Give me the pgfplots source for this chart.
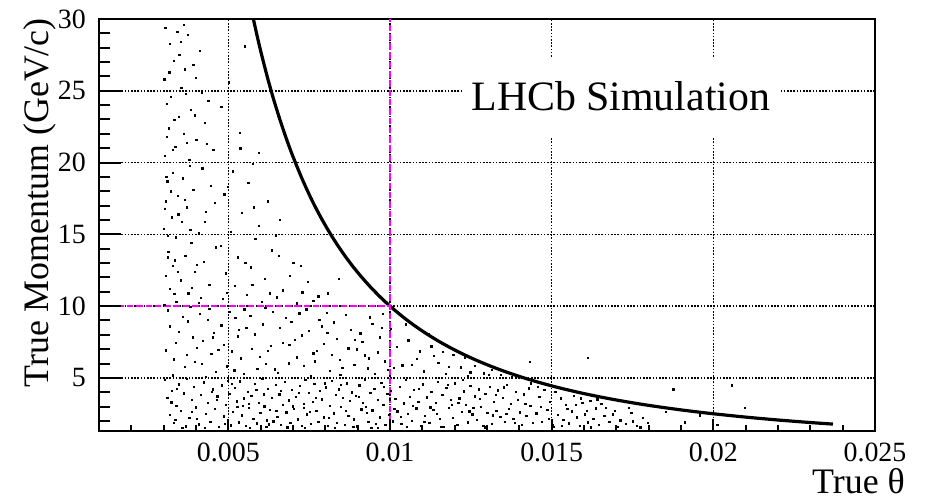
\documentclass[border=0pt]{standalone}
\usepackage{fontspec}
\setmainfont{Liberation Serif}
\usepackage{pgfplots}
\pgfplotsset{compat=1.18}
\definecolor{rootmagenta}{RGB}{255,0,255}
\newcommand\tickfont{\fontsize{28}{32}\selectfont}
\newcommand\labfont{\fontsize{36}{40}\selectfont}
\newcommand\bigfont{\fontsize{42}{46}\selectfont}
\begin{document}
\begin{tikzpicture}
\path[use as bounding box] (0,0) rectangle (930bp,501bp);
\begin{axis}[
  at={(99bp,70bp)}, anchor=south west,
  width=776bp, height=412bp, scale only axis,
  xmin=0.001, xmax=0.025, ymin=1.3, ymax=30,
  axis line style={line width=2.4bp, black},
  every tick/.style={draw=none},
  xtick={0.005,0.01,0.015,0.02,0.025},
  xticklabels={0.005,0.01,0.015,0.02,0.025},
  scaled x ticks=false,
  ytick={5,10,15,20,25,30},
  grid=major,
  major grid style={black, line width=1.5bp, dash pattern=on 1.5bp off 1.7bp},
  /pgf/number format/assume math mode=true,
  xticklabel style={font=\tickfont, anchor=north, inner sep=0pt, yshift=-11.5bp},
  yticklabel style={font=\tickfont, anchor=east, inner sep=0pt, xshift=-13bp},
  clip=true,
]
% simulated tracks
\addplot[only marks, mark=square*, mark size=0.65bp, mark options={draw=none, fill=black}] coordinates {
(0.00305,29.4) (0.00342,29.1) (0.00318,28.3) (0.00375,28.9) (0.00412,27.8) (0.00331,27.1) (0.00366,26.5) (0.00302,25.8)
(0.00398,25.9) (0.00354,25.2) (0.00321,24.6) (0.00438,24.3) (0.00309,24.1) (0.00384,23.7) (0.00347,23.2) (0.00426,22.8)
(0.00315,22.4) (0.00362,22.0) (0.00401,21.6) (0.00336,21.1) (0.00453,20.9) (0.00304,20.5) (0.00379,20.2) (0.00419,19.6)
(0.00327,19.3) (0.00358,18.9) (0.00311,18.7) (0.00446,18.4) (0.00391,18.1) (0.00343,17.7) (0.00307,17.3) (0.00372,16.9)
(0.00429,16.6) (0.00324,16.2) (0.00356,15.9) (0.00301,15.4) (0.00408,15.1) (0.00338,14.8) (0.00385,14.4) (0.00461,14.1)
(0.00314,13.8) (0.00367,13.5) (0.00423,13.1) (0.00329,12.8) (0.00395,12.4) (0.00306,12.1) (0.00352,11.8) (0.00441,11.5)
(0.00318,11.2) (0.00376,10.9) (0.00414,10.6) (0.00339,10.3) (0.00302,10.1) (0.00361,29.6) (0.00348,27.5) (0.00391,26.8)
(0.00333,23.0) (0.00309,21.8) (0.00381,19.8) (0.00345,16.4) (0.00403,12.9) (0.00312,14.9) (0.00458,17.2) (0.00433,21.3)
(0.00369,24.8) (0.00322,18.0) (0.00387,11.3) (0.00335,13.2) (0.00304,16.8)
(0.00317,26.3) (0.00352,28.4) (0.00397,23.3) (0.00329,20.9) (0.00364,17.4) (0.00313,13.4) (0.00418,24.9) (0.00371,21.4)
(0.00344,12.4) (0.00426,15.9) (0.00308,19.0) (0.00382,15.3)
(0.00551,28.1) (0.00502,25.6) (0.00478,23.9) (0.00536,22.1) (0.00594,20.7) (0.00513,19.4) (0.00561,18.6) (0.00487,17.8)
(0.00622,17.3) (0.00541,16.5) (0.00659,16.0) (0.00508,15.2) (0.00583,14.7) (0.00476,14.2) (0.00634,13.9) (0.00528,13.4)
(0.00701,13.0) (0.00569,12.7) (0.00492,12.3) (0.00612,11.9) (0.00745,11.7) (0.00519,11.4) (0.00668,11.1) (0.00556,10.8)
(0.00778,10.7) (0.00483,10.5) (0.00603,10.3) (0.00712,10.2) (0.00537,21.0) (0.00575,19.9) (0.00498,18.3) (0.00647,14.9)
(0.00552,13.0) (0.00689,12.1) (0.00627,10.9) (0.00762,10.4) (0.00579,16.9) (0.00808,10.9) (0.00841,11.9) (0.00724,12.8)
(0.00655,13.5) (0.00593,15.6)
(0.00313,9.71) (0.00347,8.23) (0.00382,9.94) (0.00395,6.12) (0.00421,7.58) (0.00436,9.05) (0.00462,5.43) (0.00478,8.66)
(0.00503,9.62) (0.00511,6.85) (0.00529,7.91) (0.00547,5.27) (0.00568,9.33) (0.00582,8.04) (0.00597,6.49) (0.00614,9.87)
(0.00631,7.22) (0.00643,5.61) (0.00659,8.48) (0.00677,9.18) (0.00686,6.03) (0.00705,7.66) (0.00719,9.51) (0.00733,5.84)
(0.00748,8.29) (0.00762,6.71) (0.00781,9.03) (0.00795,7.38) (0.00813,5.49) (0.00826,8.87) (0.00844,6.26) (0.00863,9.41)
(0.00871,7.07) (0.00889,5.93) (0.00908,8.12) (0.00921,6.58) (0.00937,9.22) (0.00952,5.31) (0.00969,7.84) (0.00984,6.17)
(0.01002,8.41) (0.00306,6.92) (0.00327,5.18) (0.00338,7.47) (0.00359,9.28) (0.00366,5.76) (0.00374,8.95) (0.00403,7.11)
(0.00412,9.46) (0.00429,5.09) (0.00447,6.67) (0.00455,8.13) (0.00486,7.29) (0.00495,5.82) (0.00521,9.17) (0.00538,6.38)
(0.00555,8.51) (0.00573,7.02) (0.00589,5.64) (0.00606,8.73) (0.00622,6.91) (0.00638,9.59) (0.00652,5.35) (0.00668,7.45)
(0.00694,8.92) (0.00712,6.44) (0.00726,7.98) (0.00741,9.78) (0.00755,5.16) (0.00773,6.88) (0.00788,8.61) (0.00804,9.56)
(0.00819,6.62) (0.00835,7.73) (0.00852,5.71) (0.00878,8.34) (0.00896,6.99) (0.00914,7.51) (0.00931,5.67) (0.00945,8.78)
(0.00961,6.79) (0.00977,9.47) (0.00993,5.55) (0.01021,7.18) (0.01038,5.88) (0.00319,8.59) (0.00332,6.31) (0.00389,7.83)
(0.00417,5.97) (0.00441,9.81) (0.00469,6.94) (0.00518,5.53) (0.00549,9.79)
(0.00333,10.87) (0.00371,6.62) (0.00409,10.24) (0.00452,7.83) (0.00496,10.92) (0.00533,8.36) (0.00574,11.48) (0.00616,5.97)
(0.00649,10.63) (0.00688,7.32) (0.00728,10.96) (0.00767,6.16) (0.00806,8.17) (0.00846,5.23) (0.00891,7.68) (0.00935,6.38)
(0.00974,8.52) (0.01012,5.69) (0.01049,8.73) (0.01092,6.86) (0.01135,6.54) (0.01182,5.77) (0.01248,5.39) (0.01305,5.22)
(0.01056,7.62) (0.01083,6.35) (0.01104,5.47) (0.01127,7.21) (0.01149,6.08) (0.01172,5.29) (0.01195,6.61) (0.01218,5.74)
(0.01241,5.12) (0.01263,5.86) (0.01289,5.33) (0.01314,5.58) (0.01342,5.21) (0.01118,8.06) (0.01067,5.91) (0.01431,6.12)
(0.01376,5.05) (0.01231,6.45) (0.01163,6.82)
(0.00304,4.87) (0.00311,3.62) (0.00318,2.45) (0.00325,4.13) (0.00331,1.86) (0.00339,3.08) (0.00346,4.56) (0.00352,2.71)
(0.00361,3.94) (0.00368,1.63) (0.00372,4.95) (0.00379,2.23) (0.00386,3.47) (0.00393,4.38) (0.00399,2.96) (0.00408,1.78)
(0.00414,3.81) (0.00423,4.69) (0.00431,2.52) (0.00437,3.26) (0.00444,1.95) (0.00452,4.21) (0.00458,2.87) (0.00466,3.73)
(0.00471,1.58) (0.00479,4.48) (0.00485,2.34) (0.00491,3.15) (0.00497,4.82) (0.00336,2.09)
(0.00503,3.91) (0.00508,1.71) (0.00514,2.64) (0.00519,4.33) (0.00525,3.37) (0.00531,1.92) (0.00536,4.76) (0.00542,2.41)
(0.00547,3.58) (0.00553,1.67) (0.00559,4.05) (0.00564,2.93) (0.00571,3.76) (0.00577,2.18) (0.00582,4.61) (0.00588,1.84)
(0.00594,3.29) (0.00599,2.57) (0.00605,4.92) (0.00611,3.03) (0.00617,1.61) (0.00622,4.27) (0.00628,2.76) (0.00634,3.64)
(0.00639,1.99) (0.00646,4.52) (0.00651,2.32) (0.00657,3.86) (0.00663,1.74) (0.00668,3.12) (0.00674,4.71) (0.00679,2.61)
(0.00686,3.44) (0.00691,1.89) (0.00697,4.18) (0.00703,2.84) (0.00708,3.69) (0.00714,2.13) (0.00721,4.44) (0.00726,1.66)
(0.00732,3.21) (0.00738,4.87) (0.00743,2.48) (0.00749,3.97) (0.00755,1.81) (0.00761,3.33) (0.00766,4.58) (0.00772,2.69)
(0.00778,1.97) (0.00783,4.09) (0.00789,3.52) (0.00794,2.27) (0.00618,2.05) (0.00733,2.91) (0.00562,3.18)
(0.00802,4.36) (0.00807,1.69) (0.00813,3.07) (0.00819,4.79) (0.00825,2.54) (0.00831,3.83) (0.00836,1.88) (0.00842,4.22)
(0.00848,2.99) (0.00853,3.61) (0.00859,1.76) (0.00865,4.64) (0.00871,2.37) (0.00876,3.42) (0.00882,4.01) (0.00888,2.12)
(0.00893,3.78) (0.00899,1.64) (0.00905,4.49) (0.00911,2.81) (0.00916,3.26) (0.00922,4.91) (0.00928,2.59) (0.00933,1.93)
(0.00939,3.95) (0.00945,2.74) (0.00951,4.27) (0.00956,1.83) (0.00962,3.48) (0.00968,2.26) (0.00973,4.66) (0.00979,3.14)
(0.00985,1.72) (0.00991,3.89) (0.00996,2.43) (0.01003,4.12) (0.01009,1.98) (0.01016,3.56) (0.01022,2.68) (0.01029,4.41)
(0.01035,1.79) (0.01042,3.23) (0.01048,4.85) (0.01055,2.51) (0.01061,3.71) (0.01068,2.02) (0.01074,4.19) (0.01081,2.88)
(0.01087,3.36) (0.01094,1.68)
(0.01101,4.57) (0.01108,2.35) (0.01114,3.66) (0.01121,1.87) (0.01127,4.03) (0.01134,2.79) (0.01141,3.27) (0.01147,4.74)
(0.01154,2.17) (0.01161,3.84) (0.01167,1.62) (0.01174,4.31) (0.01181,2.94) (0.01187,3.49) (0.01194,2.21) (0.01201,4.63)
(0.01208,1.76) (0.01214,3.58) (0.01221,2.66) (0.01228,4.08) (0.01234,3.11) (0.01241,1.91) (0.01248,4.45) (0.01254,2.47)
(0.01261,3.73) (0.01268,2.08) (0.01274,4.22) (0.01281,3.01) (0.01288,1.69) (0.01294,3.92) (0.01301,2.56) (0.01308,4.37)
(0.01314,1.83) (0.01321,3.34) (0.01328,2.73) (0.01334,4.14) (0.01341,2.29) (0.01348,3.62) (0.01354,1.94) (0.01361,4.51)
(0.01368,2.86) (0.01374,3.19) (0.01381,2.14) (0.01388,4.02) (0.01394,3.47) (0.01401,2.61) (0.01408,1.73) (0.01414,3.86)
(0.01421,2.39) (0.01428,4.28) (0.01434,3.05) (0.01441,1.88)
(0.01452,2.53) (0.01461,3.71) (0.01469,1.97) (0.01477,4.18) (0.01486,2.79) (0.01494,3.34) (0.01503,1.76) (0.01511,4.05)
(0.01519,2.42) (0.01528,3.58) (0.01536,2.11) (0.01544,3.12) (0.01553,1.84) (0.01561,2.68) (0.01569,3.77) (0.01578,2.26)
(0.01586,1.67) (0.01594,3.29) (0.01603,2.48) (0.01611,1.91) (0.01619,3.41) (0.01628,2.17) (0.01636,2.89) (0.01645,1.73)
(0.01653,3.18) (0.01662,2.36) (0.01678,1.94) (0.01695,2.71) (0.01712,2.05) (0.01729,1.81) (0.01746,2.58) (0.01763,1.69)
(0.01781,2.22) (0.01797,1.87)
(0.00323,3.31) (0.00357,1.52) (0.00402,2.18) (0.00448,4.02) (0.00489,1.83) (0.00527,2.97) (0.00566,1.55) (0.00609,3.87)
(0.00648,2.71) (0.00682,1.57) (0.00717,3.95) (0.00752,2.66) (0.00797,4.63) (0.00829,1.55) (0.00863,2.72) (0.00903,3.67)
(0.00942,1.52) (0.00981,4.39) (0.01013,2.87) (0.01051,1.61) (0.01089,4.27) (0.01124,2.96) (0.01158,1.58) (0.01191,3.15)
(0.01224,4.86) (0.01257,2.93) (0.01292,1.57) (0.01327,3.81) (0.01359,2.49) (0.01397,1.58) (0.01436,4.62) (0.01467,2.97)
(0.01507,1.59) (0.01548,2.87) (0.01589,3.59) (0.01621,1.57) (0.01667,2.93) (0.01703,1.62) (0.01738,2.91) (0.01774,1.56)
(0.00341,4.27) (0.00386,2.63) (0.00427,1.54) (0.00463,3.49) (0.00511,4.58) (0.00545,3.07) (0.00586,4.18) (0.00625,1.77)
(0.00661,4.09) (0.00699,3.02) (0.00737,1.53) (0.00771,3.64) (0.00811,2.22) (0.00847,4.52) (0.00886,1.59) (0.00925,2.97)
(0.00963,1.53) (0.00999,3.52) (0.01032,2.29) (0.01071,3.06) (0.01106,1.95) (0.01144,2.51) (0.01178,4.54) (0.01211,3.27)
(0.01245,2.68) (0.01278,3.54) (0.01318,2.41) (0.01351,4.36) (0.01385,1.89) (0.01418,3.21) (0.01457,4.38) (0.01491,2.18)
(0.01532,1.66) (0.01575,3.11) (0.01609,2.73) (0.01641,3.52) (0.01688,2.48) (0.01751,1.98)
(0.01612,6.43) (0.01876,4.21) (0.02057,4.48) (0.02096,2.93) (0.01853,2.64) (0.01912,1.92) (0.01958,2.41) (0.02012,1.74)
};
% p * theta^2 = 0.001 curve
\addplot[black, line width=3.2bp, smooth] coordinates {
(0.005774,30.0) (0.0059,28.73) (0.006,27.78) (0.0062,26.01) (0.0064,24.41) (0.0066,22.96) (0.0068,21.63) (0.007,20.41)
(0.0073,18.77) (0.0076,17.31) (0.0079,16.02) (0.0082,14.87) (0.0085,13.84) (0.0088,12.91) (0.0091,12.08) (0.0094,11.32)
(0.0097,10.63) (0.010,10.0) (0.0105,9.070) (0.011,8.264) (0.0115,7.561) (0.012,6.944) (0.0125,6.4) (0.013,5.917)
(0.0135,5.487) (0.014,5.102) (0.0145,4.756) (0.015,4.444) (0.0155,4.162) (0.016,3.906) (0.0165,3.673) (0.017,3.460)
(0.0175,3.265) (0.018,3.086) (0.0185,2.922) (0.019,2.770) (0.0195,2.630) (0.020,2.5) (0.021,2.268) (0.022,2.066)
(0.023,1.890) (0.0237,1.780)
};
% magenta dashed guides
\addplot[rootmagenta, line width=2.5bp, dash pattern=on 6.5bp off 2.8bp] coordinates {(0.01,1.3) (0.01,30)};
\addplot[rootmagenta, line width=2.5bp, dash pattern=on 6.5bp off 2.8bp] coordinates {(0.001,10) (0.01,10)};
\node[fill=white, minimum width=318bp, minimum height=80bp, inner sep=0pt, font=\bigfont] at (axis cs:0.01714,24.6) {LHCb Simulation};
% tick marks, lower and left edges only (ROOT style)
\pgfplotsinvokeforeach{0.002,0.003,0.004,0.006,0.007,0.008,0.009,0.011,0.012,0.013,0.014,0.016,0.017,0.018,0.019,0.021,0.022,0.023,0.024}{
  \draw[black, line width=2bp] (axis cs:#1,1.3) -- ++(0bp,6bp);
}
\pgfplotsinvokeforeach{0.005,0.01,0.015,0.02}{
  \draw[black, line width=2bp] (axis cs:#1,1.3) -- ++(0bp,12bp);
}
\pgfplotsinvokeforeach{2,3,4,6,7,8,9,11,12,13,14,16,17,18,19,21,22,23,24,26,27,28,29}{
  \draw[black, line width=2bp] (axis cs:0.001,#1) -- ++(11bp,0bp);
}
\pgfplotsinvokeforeach{5,10,15,20,25}{
  \draw[black, line width=2bp] (axis cs:0.001,#1) -- ++(22bp,0bp);
}
\end{axis}
\node[rotate=90, anchor=south east, inner sep=0pt, font=\labfont] at (56bp,483bp) {True Momentum (GeV/c)};
\node[anchor=base east, inner sep=0pt, font=\labfont] at (905bp,8bp) {True θ};
\end{tikzpicture}
\end{document}
